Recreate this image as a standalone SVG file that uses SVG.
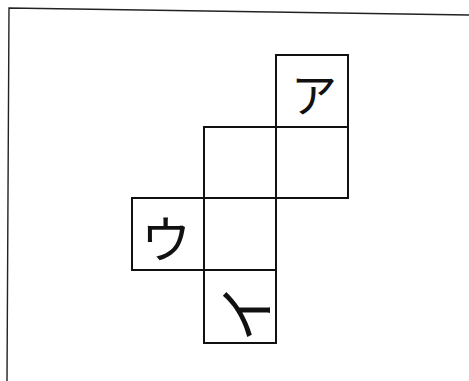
<svg xmlns="http://www.w3.org/2000/svg" width="469" height="381" viewBox="0 0 469 381">
<style>
.frame{fill:none;stroke:#222;stroke-width:1.4}
.cell{fill:none;stroke:#111;stroke-width:2}
.kana{font-family:"Noto Sans CJK JP","Noto Sans CJK SC",sans-serif;font-size:46px;fill:#111;text-anchor:middle;dominant-baseline:central}
</style>
<rect width="469" height="381" fill="#fff"/>
<g id="frame">
<polyline class="frame" points="469,15 9,8 7,381"/>
</g>
<g id="cell-a">
<rect class="cell" x="276" y="55" width="72" height="72"/>
<text class="kana" x="314" y="92">ア</text>
</g>
<g id="cell-r2c2">
<rect class="cell" x="204" y="127" width="72" height="71"/>
</g>
<g id="cell-r2c3">
<rect class="cell" x="276" y="127" width="72" height="71"/>
</g>
<g id="cell-u">
<rect class="cell" x="132" y="198" width="72" height="72"/>
<text class="kana" x="166" y="236" style="font-size:50px">ウ</text>
</g>
<g id="cell-r3c2">
<rect class="cell" x="204" y="198" width="72" height="72"/>
</g>
<g id="cell-i">
<rect class="cell" x="204" y="270" width="72" height="73"/>
<text class="kana" x="243" y="313" style="font-size:58px" transform="rotate(-90 243 313)">イ</text>
</g>
</svg>
